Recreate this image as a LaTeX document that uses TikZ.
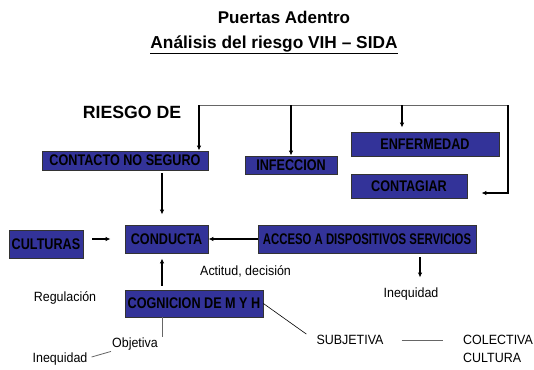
\documentclass[tikz,border=0pt]{standalone}
\usepackage{fontspec}
\setmainfont{Liberation Sans}
\newfontfamily\narrowfont{Liberation Sans}[FakeStretch=0.82]
\newfontfamily\slimfont{Liberation Sans}[FakeStretch=0.93]
\usetikzlibrary{arrows.meta}
\definecolor{boxblue}{RGB}{51,51,153}

\begin{document}
\begin{tikzpicture}[x=1pt,y=-1pt]
		\tikzset{box/.style = {shape=rectangle, draw=black!80, fill=boxblue, inner sep=0pt, line width=0.8pt, font=\narrowfont\fontsize{15.4}{17}\selectfont\bfseries},
		txt/.style = {inner sep=1pt, font=\slimfont\fontsize{13.4}{15}\selectfont},
		arr/.style = {-{Latex[length=5pt,width=4.5pt]}, line width=1.3pt},
		link/.style = {draw=black!60, line width=0.8pt}}

		\useasboundingbox (0,0) rectangle (534,369);

		\node[font=\fontsize{17}{19}\selectfont\bfseries] (T_1) at (284,17) {Puertas Adentro};
		\node[font=\fontsize{17.3}{19}\selectfont\bfseries] (T_2) at (274,45) {\underline{Análisis del riesgo VIH – SIDA}};
		\node[font=\fontsize{17.7}{20}\selectfont\bfseries] (T_3) at (132,112) {RIESGO DE};

		\node[box, minimum width=166, minimum height=19] (B_1) at (125,160.5) {CONTACTO NO SEGURO};
		\node[box, minimum width=92, minimum height=18] (B_2) at (291,165) {INFECCION};
		\node[box, minimum width=148, minimum height=24] (B_3) at (425,144) {ENFERMEDAD};
		\node[box, minimum width=116, minimum height=24] (B_4) at (409,186) {CONTAGIAR};
		\node[box, minimum width=74, minimum height=28] (B_5) at (46,244) {CULTURAS};
		\node[box, minimum width=83, minimum height=28] (B_6) at (166.5,239) {CONDUCTA};
		\node[box, minimum width=218, minimum height=28] (B_7) at (367,239) {\scalebox{0.9}[1]{ACCESO A DISPOSITIVOS SERVICIOS}};
		\node[box, minimum width=138, minimum height=27] (B_8) at (194,303.5) {COGNICION DE M Y H};

		\node[txt, anchor=west] (T_4) at (199,271) {Actitud, decisión};
		\node[txt] (T_5) at (411,294) {Inequidad};
		\node[txt] (T_6) at (65,298) {Regulación};
		\node[txt] (T_7) at (135,344) {Objetiva};
		\node[txt] (T_8) at (60,359) {Inequidad};
		\node[txt] (T_9) at (350,340) {SUBJETIVA};
		\node[txt, anchor=west] (T_10) at (462,340) {COLECTIVA};
		\node[txt, anchor=west] (T_11) at (462,358) {CULTURA};

		\coordinate (C_1) at (199,105);
		\coordinate (C_2) at (508,105);
		\coordinate (C_3) at ([xshift=-4.5pt]B_6.north);

		\draw[link] (C_1) -- (C_2);
		\draw[arr] (C_1) -- (B_1.north -| C_1);
		\draw[arr] (B_2.north |- C_1) -- (B_2.north);
		\draw[arr] ([xshift=-23pt]B_3.north |- C_1) -- ([xshift=-23pt,yshift=4pt]B_3.north);
		\draw[arr] (C_2) |- ([xshift=14pt,yshift=-7pt]B_4.east);

		\draw[arr, shorten <=3pt, shorten >=10pt] (B_1.south -| C_3) -- (C_3);
		\draw[arr, shorten <=9pt, shorten >=14pt] (B_5.east |- B_6) -- (B_6.west);
		\draw[arr] (B_7.west) -- (B_6.east);
		\draw[arr, shorten <=4pt, shorten >=5pt] (B_8.north -| C_3) -- (B_6.south -| C_3);
		\draw[arr, shorten <=4pt, shorten >=9pt] ([xshift=53pt]B_7.south) -- ([xshift=53pt]B_7.south |- T_5.north);

		\draw[link] (B_8.south -| C_3) -- (T_7.north east -| C_3);
		\draw[link] ([xshift=3pt,yshift=2pt]T_8.east) -- (T_7.south west);
		\draw[line width=0.6pt] (B_8.east) -- ([xshift=-9pt]T_9.north west);
		\draw[link, shorten <=17pt, shorten >=19pt] (T_9.east) -- (T_10.west);

	\end{tikzpicture}
\end{document}
